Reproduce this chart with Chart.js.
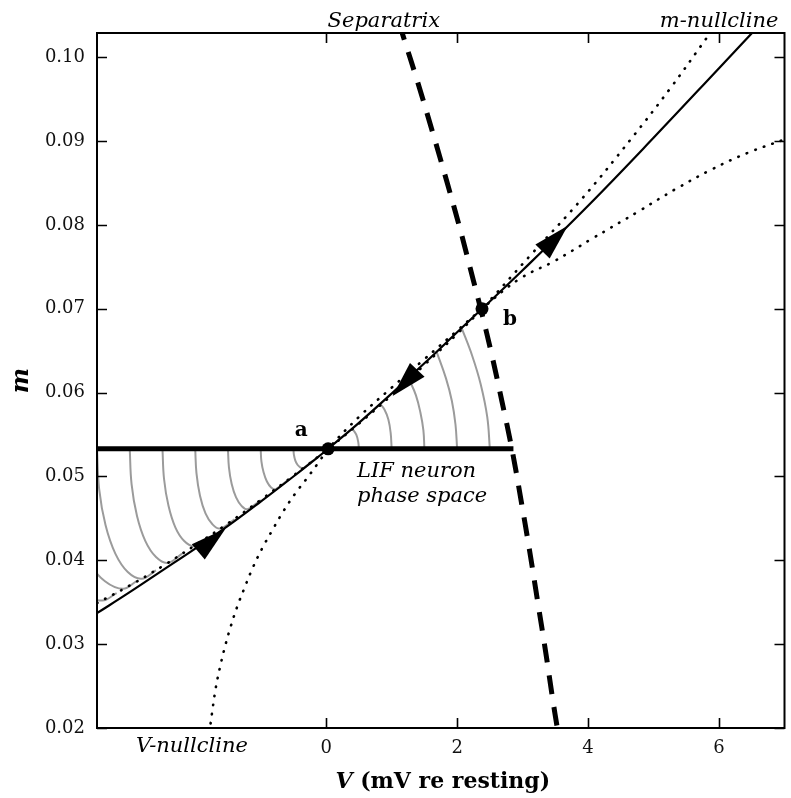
<!DOCTYPE html>
<html>
<head>
<meta charset="utf-8">
<script src="https://cdn.jsdelivr.net/npm/chart.js@4.4.1/dist/chart.umd.min.js"></script>
<style>
  html, body { margin: 0; padding: 0; background: #fff; }
  canvas { display: block; }
</style>
</head>
<body>
<canvas id="plane" width="791" height="798"></canvas>
<script>
// Axis extents and tick labels
const vRange = [-3.5, 7];
const mRange = [0.02, 0.1029];
const xTicks = [0, 2, 4, 6];
const yTicks = [0.02, 0.03, 0.04, 0.05, 0.06, 0.07, 0.08, 0.09, 0.10];

// Slow manifold through a and b (solid)
const manifoldV = [-3.5, -3.0, -2.5, -2.0, -1.5, -1.0, -0.5, 0.0, 0.03, 0.5, 1.0, 1.5, 2.0, 2.38, 3.0, 4.0, 5.0, 6.0, 6.6];
const manifoldM = [0.0337, 0.0362, 0.0388, 0.0414, 0.0441, 0.0470, 0.0500, 0.0531, 0.0533, 0.0564, 0.0599, 0.0635, 0.0672, 0.0700, 0.0746, 0.0823, 0.0904, 0.0987, 0.1037];

// m-nullcline (dotted, convex)
const mNullV = [-3.5, -3.0, -2.5, -2.0, -1.5, -1.0, -0.5, 0.03, 0.5, 1.0, 1.5, 2.0, 2.38, 3.11, 3.92, 4.65, 5.26, 5.81, 5.95];
const mNullM = [0.0349, 0.0370, 0.0393, 0.0418, 0.0444, 0.0472, 0.0501, 0.0533, 0.0563, 0.0597, 0.0633, 0.0670, 0.0700, 0.0763, 0.08325, 0.0902, 0.09635, 0.1023, 0.1038];

// V-nullcline (dotted, concave)
const vNullV = [-1.79, -1.76, -1.738, -1.69, -1.626, -1.55, -1.46, -1.36, -1.242, -1.12, -0.98, -0.818, -0.652, -0.475, -0.273, -0.096, 0.03, 0.5, 1.0, 1.5, 2.0, 2.38, 2.945, 3.49, 4.045, 4.78, 5.33, 5.89, 6.44, 7.0];
const vNullM = [0.0195, 0.0208, 0.0221, 0.0246, 0.0271, 0.02956, 0.03206, 0.03444, 0.03682, 0.03913, 0.04139, 0.04365, 0.04587, 0.04794, 0.0500, 0.0519, 0.0533, 0.0571, 0.0606, 0.0640, 0.0674, 0.0700, 0.07353, 0.07571, 0.07829, 0.08167, 0.08425, 0.08663, 0.08861, 0.0902];

// Separatrix (thick dashed)
const sepV = [1.106, 1.167, 1.394, 1.621, 1.841, 2.053, 2.250, 2.364, 2.515, 2.682, 2.841, 2.977, 3.106, 3.227, 3.348, 3.462, 3.530, 3.561];
const sepM = [0.10429, 0.10274, 0.09714, 0.09119, 0.08524, 0.07929, 0.07333, 0.06988, 0.06500, 0.05905, 0.05310, 0.04714, 0.04119, 0.03524, 0.02929, 0.02333, 0.0200, 0.01857];

// Reset line of the LIF neuron
const resetV = [-3.5, 2.86];
const resetM = [0.0533, 0.0533];

// Fixed points
const fixedV = [0.03, 2.38];
const fixedM = [0.0533, 0.0700];
const fixedNames = ['a', 'b'];

// Trajectories leaving the reset line, left of a: [V, m] pairs
const leftRuns = [
  [[-4.5, 0.0533], [-4.447, 0.0477], [-4.294, 0.0427], [-4.055, 0.0387], [-3.754, 0.0361], [-3.42, 0.0352], [-3.2, 0.0361]],
  [[-4.0, 0.0533], [-3.956, 0.0481], [-3.828, 0.0435], [-3.629, 0.0398], [-3.378, 0.0375], [-3.1, 0.0366], [-2.9, 0.0375]],
  [[-3.5, 0.0533], [-3.467, 0.0485], [-3.370, 0.0442], [-3.220, 0.0408], [-3.030, 0.0386], [-2.82, 0.0378], [-2.6, 0.0388]],
  [[-3.0, 0.0533], [-2.972, 0.0491], [-2.889, 0.0453], [-2.761, 0.0423], [-2.599, 0.0404], [-2.42, 0.0397], [-2.2, 0.0408]],
  [[-2.5, 0.0533], [-2.476, 0.0497], [-2.408, 0.0465], [-2.302, 0.0439], [-2.168, 0.0423], [-2.02, 0.0417], [-1.8, 0.0428]],
  [[-2.0, 0.0533], [-1.981, 0.0504], [-1.927, 0.0477], [-1.843, 0.0456], [-1.737, 0.0443], [-1.62, 0.0438], [-1.4, 0.0449]],
  [[-1.5, 0.0533], [-1.485, 0.0511], [-1.443, 0.0491], [-1.376, 0.0475], [-1.293, 0.0465], [-1.2, 0.0461], [-1.0, 0.0472]],
  [[-1.0, 0.0533], [-0.989, 0.0518], [-0.956, 0.0505], [-0.905, 0.0494], [-0.841, 0.0487], [-0.77, 0.0485], [-0.6, 0.0495]],
  [[-0.5, 0.0533], [-0.493, 0.0526], [-0.471, 0.0519], [-0.438, 0.0514], [-0.396, 0.0511], [-0.35, 0.0510], [-0.2, 0.0519]]
];

// Trajectories leaving the reset line between a and the separatrix
const rightRuns = [
  [[0.5, 0.0533], [0.49, 0.0541], [0.46, 0.0550], [0.40, 0.0557]],
  [[1.0, 0.0533], [0.985, 0.0552], [0.95, 0.0568], [0.89, 0.0580], [0.82, 0.0587]],
  [[1.5, 0.0533], [1.485, 0.0555], [1.44, 0.0576], [1.37, 0.0597], [1.26, 0.0617]],
  [[2.0, 0.0533], [1.975, 0.0562], [1.92, 0.0590], [1.83, 0.0617], [1.69, 0.0648]],
  [[2.5, 0.0533], [2.46, 0.0571], [2.36, 0.0610], [2.23, 0.0644], [2.07, 0.0677]]
];

// Flow direction arrows on the manifold (tip and a point behind it)
const arrowTipV = [3.69, 1.015, -1.535];
const arrowTipM = [0.0799, 0.0596, 0.0438];
const arrowTailV = [3.30, 1.364, -1.94];
const arrowTailM = [0.0768, 0.0625, 0.0411];

const SERIF = '"DejaVu Serif", "Liberation Serif", serif';

const pts = (vs, ms) => vs.map((v, i) => ({ x: v, y: ms[i] }));
const pairs = (run) => run.map(p => ({ x: p[0], y: p[1] }));

const curve = (data, extra) => Object.assign({
  type: 'scatter', data, showLine: true, pointRadius: 0, pointHoverRadius: 0,
  borderColor: '#000', borderWidth: 2, tension: 0.4, fill: false, clip: 0
}, extra);

const datasets = [
  { type: 'scatter', data: pts(fixedV, fixedM), showLine: false, pointRadius: 6.5,
    pointHoverRadius: 6.5, pointBackgroundColor: '#000', pointBorderWidth: 0, order: 0 },
  curve(pts(resetV, resetM), { borderWidth: 5, tension: 0, borderCapStyle: 'butt', order: 1 }),
  curve(pts(sepV, sepM), { borderWidth: 5, borderDash: [19, 13], borderCapStyle: 'butt', order: 2 }),
  curve(pts(manifoldV, manifoldM), { borderWidth: 2.2, order: 3 }),
  curve(pts(mNullV, mNullM), { borderWidth: 2.6, borderDash: [0.5, 8.6], borderCapStyle: 'round', order: 4 }),
  curve(pts(vNullV, vNullM), { borderWidth: 2.6, borderDash: [0.5, 8.6], borderCapStyle: 'round', order: 5 })
];
leftRuns.concat(rightRuns).forEach((run, i) => {
  datasets.push(curve(pairs(run), { borderColor: '#9b9b9b', borderWidth: 2, order: 10 + i }));
});

// Arrow heads, frame with inward ticks, and annotation text
const decorations = {
  id: 'decorations',
  afterDatasetsDraw(chart) {
    const { ctx, chartArea: a, scales: { x: xs, y: ys } } = chart;
    ctx.save();
    // arrow heads
    ctx.fillStyle = '#000';
    for (let i = 0; i < arrowTipV.length; i++) {
      const tx = xs.getPixelForValue(arrowTipV[i]), ty = ys.getPixelForValue(arrowTipM[i]);
      const bx = xs.getPixelForValue(arrowTailV[i]), by = ys.getPixelForValue(arrowTailM[i]);
      const len = Math.hypot(tx - bx, ty - by);
      const dx = (tx - bx) / len, dy = (ty - by) / len;
      const L = 36, W = 10;
      const cx = tx - dx * L, cy = ty - dy * L;
      ctx.beginPath();
      ctx.moveTo(tx, ty);
      ctx.lineTo(cx - dy * W, cy + dx * W);
      ctx.lineTo(cx + dy * W, cy - dx * W);
      ctx.closePath();
      ctx.fill();
    }
    // frame
    ctx.strokeStyle = '#000';
    ctx.lineWidth = 2;
    ctx.strokeRect(a.left, a.top, a.right - a.left, a.bottom - a.top);
    // inward ticks on all four sides
    ctx.lineWidth = 1.6;
    const T = 10;
    ctx.beginPath();
    xs.ticks.forEach(t => {
      const p = Math.round(xs.getPixelForValue(t.value)) + 0.5;
      ctx.moveTo(p, a.bottom); ctx.lineTo(p, a.bottom - T);
      ctx.moveTo(p, a.top); ctx.lineTo(p, a.top + T);
    });
    ys.ticks.forEach(t => {
      const p = Math.round(ys.getPixelForValue(t.value)) + 0.5;
      ctx.moveTo(a.left, p); ctx.lineTo(a.left + T, p);
      ctx.moveTo(a.right, p); ctx.lineTo(a.right - T, p);
    });
    ctx.stroke();
    ctx.restore();
  },
  afterDraw(chart) {
    const { ctx, chartArea: a, scales: { x: xs, y: ys } } = chart;
    ctx.save();
    ctx.fillStyle = '#000';
    ctx.textBaseline = 'alphabetic';

    // fixed point names
    ctx.font = 'bold 20px ' + SERIF;
    ctx.textAlign = 'center';
    ctx.fillText(fixedNames[0], xs.getPixelForValue(fixedV[0]) - 27, ys.getPixelForValue(fixedM[0]) - 13);
    ctx.textAlign = 'left';
    ctx.fillText(fixedNames[1], xs.getPixelForValue(fixedV[1]) + 21, ys.getPixelForValue(fixedM[1]) + 16);

    // curve names
    ctx.font = 'italic 21px ' + SERIF;
    ctx.textAlign = 'center';
    ctx.fillText('Separatrix', xs.getPixelForValue(0.88), 27);
    ctx.textAlign = 'right';
    ctx.fillText('m-nullcline', a.right - 6, 27);
    ctx.textAlign = 'center';
    ctx.fillText('V-nullcline', xs.getPixelForValue(-2.05), 752);

    ctx.textAlign = 'left';
    ctx.fillText('LIF neuron', xs.getPixelForValue(0.47), ys.getPixelForValue(0.04988));
    ctx.fillText('phase space', xs.getPixelForValue(0.47), ys.getPixelForValue(0.0469));

    // x axis title: bold italic V followed by bold units
    ctx.font = 'bold italic 22px ' + SERIF;
    const w1 = ctx.measureText('V').width;
    ctx.font = 'bold 22px ' + SERIF;
    const rest = ' (mV re resting)';
    const w2 = ctx.measureText(rest).width;
    const x0 = (a.left + a.right) / 2 - (w1 + w2) / 2 + 2;
    ctx.textAlign = 'left';
    ctx.font = 'bold italic 22px ' + SERIF;
    ctx.fillText('V', x0, 788);
    ctx.font = 'bold 22px ' + SERIF;
    ctx.fillText(rest, x0 + w1, 788);

    // y axis title
    ctx.translate(22, (a.top + a.bottom) / 2);
    ctx.rotate(-Math.PI / 2);
    ctx.textAlign = 'center';
    ctx.textBaseline = 'middle';
    ctx.font = 'bold italic 24px ' + SERIF;
    ctx.fillText('m', 0, 0);
    ctx.restore();
  }
};

new Chart(document.getElementById('plane'), {
  type: 'scatter',
  data: { datasets },
  options: {
    responsive: false,
    animation: false,
    events: [],
    layout: { padding: { left: 0, top: 33, right: 2, bottom: 0 } },
    elements: { line: { capBezierPoints: false } },
    plugins: { legend: { display: false }, tooltip: { enabled: false } },
    scales: {
      x: {
        type: 'linear', min: vRange[0], max: vRange[1],
        grid: { display: false, drawTicks: false },
        border: { display: false },
        afterBuildTicks: s => { s.ticks = xTicks.map(v => ({ value: v })); },
        afterFit: s => { s.height = 70; },
        ticks: { autoSkip: false, maxRotation: 0, padding: 10, color: '#111',
                 font: { family: SERIF, size: 18 }, callback: v => String(v) }
      },
      y: {
        type: 'linear', min: mRange[0], max: mRange[1],
        grid: { display: false, drawTicks: false },
        border: { display: false },
        afterBuildTicks: s => { s.ticks = yTicks.map(v => ({ value: v })); },
        afterFit: s => { s.width = 97; },
        ticks: { autoSkip: false, padding: 12, color: '#111',
                 font: { family: SERIF, size: 18 }, callback: v => v.toFixed(2) }
      }
    }
  },
  plugins: [decorations]
});
</script>
</body>
</html>
